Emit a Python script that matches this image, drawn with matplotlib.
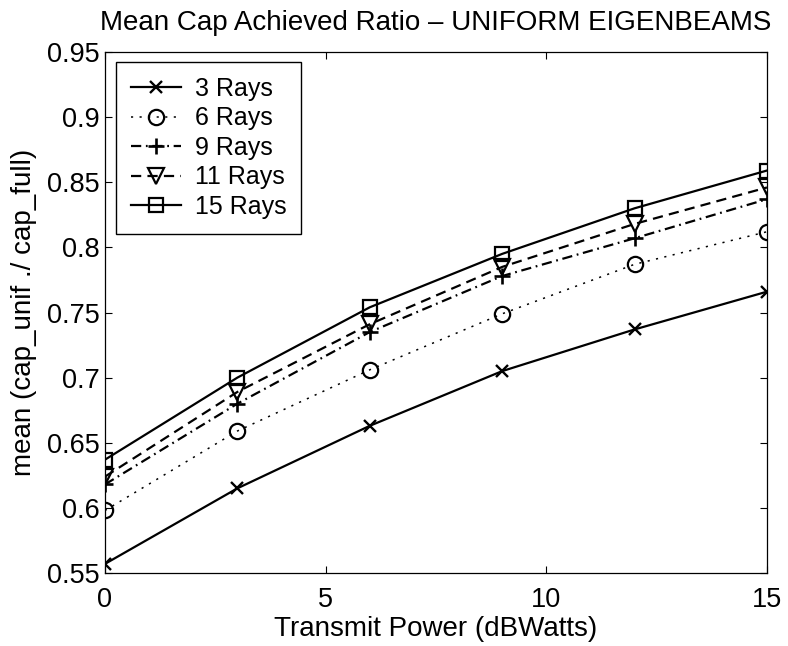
import matplotlib
matplotlib.use("Agg")
import matplotlib.pyplot as plt
from matplotlib.ticker import FuncFormatter

plt.rcParams["font.family"] = ["Liberation Sans", "DejaVu Sans"]

# transmit power (dBWatts)
power = [0, 3, 6, 9, 12, 15]

# mean achieved capacity ratio per number of rays
rays_3 = [0.557, 0.615, 0.663, 0.705, 0.737, 0.766]
rays_6 = [0.598, 0.659, 0.706, 0.749, 0.787, 0.812]
rays_9 = [0.618, 0.680, 0.735, 0.778, 0.807, 0.837]
rays_11 = [0.624, 0.689, 0.741, 0.785, 0.818, 0.846]
rays_15 = [0.637, 0.700, 0.754, 0.795, 0.830, 0.859]

labels = ["3 Rays", "6 Rays", "9 Rays", "11 Rays", "15 Rays"]
xticks = [0, 5, 10, 15]
yticks = [0.55, 0.6, 0.65, 0.7, 0.75, 0.8, 0.85, 0.9, 0.95]

fig = plt.figure(figsize=(7.88, 6.46), dpi=100)
ax = fig.add_axes([0.1332, 0.1130, 0.8401, 0.8065])

ax.plot(power, rays_3, color="k", lw=1.6, ls="-", marker="x", ms=9, mew=1.7,
        label=labels[0])
ax.plot(power, rays_6, color="k", lw=1.1, ls=(0, (1.4, 4.2)), marker="o", ms=11,
        mew=1.6, mfc="none", label=labels[1])
ax.plot(power, rays_9, color="k", lw=1.6, ls=(0, (4.6, 2.1, 0.8, 2.1)), marker="+",
        ms=12, mew=1.9, label=labels[2])
ax.plot(power, rays_11, color="k", lw=1.6, ls=(0, (4.6, 2.8)), marker="v", ms=12,
        mew=1.6, mfc="none", label=labels[3])
ax.plot(power, rays_15, color="k", lw=1.6, ls="-", marker="s", ms=10, mew=1.6,
        mfc="none", label=labels[4])

ax.set_xlim(0, 15)
ax.set_ylim(0.55, 0.95)
ax.set_xticks(xticks)
ax.set_yticks(yticks)
ax.yaxis.set_major_formatter(FuncFormatter(lambda v, p: f"{v:g}"))
ax.tick_params(direction="in", length=5, width=0.8, top=True, right=True,
               labelsize=19.5, colors="k")
ax.tick_params(axis="x", pad=10)
ax.tick_params(axis="y", pad=3.5)
for spine in ax.spines.values():
    spine.set_linewidth(0.9)

ax.set_title("Mean Cap Achieved Ratio \u2013 UNIFORM EIGENBEAMS", fontsize=20, pad=16)
ax.set_xlabel("Transmit Power (dBWatts)", fontsize=20, labelpad=2)
ax.set_ylabel("mean (cap_unif ./ cap_full)", fontsize=20)
ax.yaxis.set_label_coords(-0.103, 0.5)

leg = ax.legend(loc="upper left", bbox_to_anchor=(0.0166, 0.981), borderaxespad=0,
                fontsize=18, frameon=True, fancybox=False, framealpha=1,
                edgecolor="k", handlelength=2.0, handletextpad=0.55,
                borderpad=0.6, labelspacing=0.22)
leg.get_frame().set_linewidth(1.0)

fig.savefig("out.png", dpi=100, facecolor="white")
